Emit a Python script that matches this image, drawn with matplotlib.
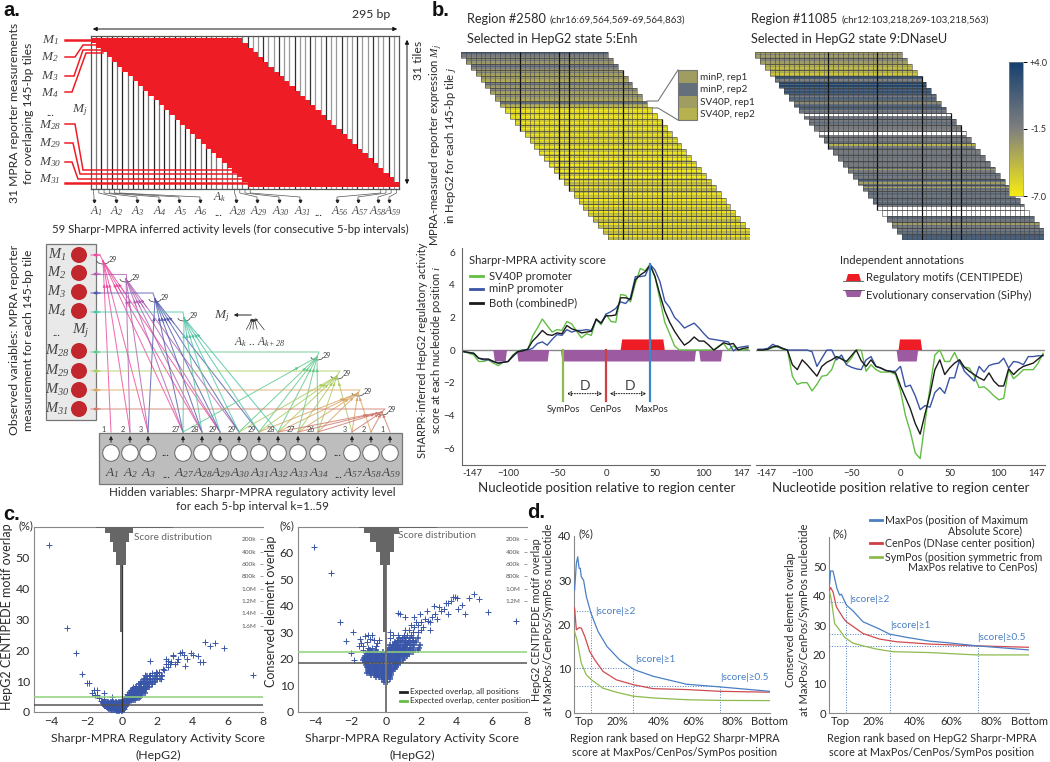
import numpy as np
import matplotlib
matplotlib.use("Agg")
import matplotlib.pyplot as plt
from matplotlib.colors import LinearSegmentedColormap, Normalize
from matplotlib.patches import Rectangle, Circle, Arc

plt.rcParams["font.family"] = ["Lato", "DejaVu Sans"]
plt.rcParams["mathtext.fontset"] = "custom"
plt.rcParams["mathtext.it"] = "Liberation Serif:italic"
plt.rcParams["mathtext.rm"] = "Liberation Serif:italic"
plt.rcParams["axes.unicode_minus"] = True

W, H = 1050, 762
INK = "#2b2b2b"

# panel a
n_cols = 59
n_tiles = 31
tile_len = 29
a_label_cols = [1, 2, 3, 4, 5, 6, 28, 29, 30, 31, 56, 57, 58, 59]
a_label_names = ["1", "2", "3", "4", "5", "6", "28", "29", "30", "31", "56", "57", "58", "59"]
a_label_px = [94, 116, 137, 159, 179, 200, 236, 257, 279, 300, 337, 358, 378, 389]
a_label_text_px = [96, 117, 138, 160, 181, 201, 238, 259, 281, 302, 340, 360, 378, 393]

m_names = ["1", "2", "3", "4", "28", "29", "30", "31"]
m_label_y = [40, 57, 76, 93, 125, 143, 162, 179]

m_circle_y = [255, 273, 292, 311, 351, 371, 390, 409]
a_names = ["1", "2", "3", "27", "28", "29", "30", "31", "32", "33", "34", "57", "58", "59"]
a_circle_x = [111, 130, 148, 183, 202, 220, 239, 259, 278, 298, 318, 352, 371, 390]
a_fan_counts = ["1", "2", "3", "27", "28", "29", "29", "29", "28", "27", "26", "3", "2", "1"]
fan_hubs = [(103, 261), (126, 279), (155, 299), (184, 318), (317, 357), (337, 376), (358, 393), (382, 412)]
fan_turn = [(100, 255), (126, 274), (153, 293), (183, 312), (319, 352), (340, 371), (360, 390), (385, 409)]
fan_targets = [[0, 1, 2, 3, 4, 5], [1, 2, 3, 4, 5, 6], [2, 3, 4, 5, 6, 7], [3, 4, 5, 6, 7, 8],
               [3, 6, 7, 8, 9, 10], [6, 7, 8, 9, 10, 11], [7, 8, 9, 10, 11, 12], [8, 9, 10, 11, 12, 13]]
fan_colors = ["#ec4a9c", "#b05cb0", "#5058ad", "#4cc3a4", "#5fc98c", "#a9cc5c", "#d9a566", "#cf7a6c"]

# panel b heatmaps, tiles by rows, four replicates per tile
enh_values = [
    [1, -1, -1, -2], [-2, -0.5, -2.5, -3], [-1, 0.8, -1.5, -2.5], [-2.5, -1, -3, -3.5],
    [-3, -2, -3.5, -4], [-1.5, 0.5, -2.5, -3], [-2, -0.5, -3, -3.5], [-2.5, -1.5, -3, -3.5],
    [-3, 0, -3, -4], [-6.5, -5.5, -6.8, -6], [-6.8, -5.5, -6.9, -6], [-6.8, -5, -6.9, -5.5],
    [-6.5, -5, -6.9, -5.5], [-6.5, -4.5, -6.8, -5.5], [-5.5, -4.5, -6.5, -5], [-5, -4.5, -6.5, -5],
    [-5, -4, -6.5, -4.5], [-5.5, -4, -6.8, -4.5], [-5, -3.8, -6.8, -4.5], [-5, -3.8, -6.8, -4.5],
    [-5, -4, -6.9, -4.5], [-4.5, -6.5, -4, -5], [-4.5, -6.8, -4, -4.5], [-4, -6.5, -4.5, -5],
    [-4.5, -6.9, -4, -5], [-4, -6.5, -4, -4.5], [-4.5, -6.5, -4, -5], [-4, -6, -4.5, -4],
    [-4, -6.5, -3.8, -4.5], [-4, -6, -4, -4.5], [-4, -6.5, -4, -4],
]
dnase_values = [
    [-3, -1.5, -3, -2.5], [-2, -1.5, -3, -3], [-4, -3, -4.5, -3.5], [-4, -3.5, -5, -3.5],
    [2.5, 1.5, -1.5, 0], [3.5, 1, 3.5, 1], [2, 1, 2.5, 1], [0.5, -1, 1, 0.5],
    [-3, -2, 0, 1], [0, 1, -1.5, -0.5], [-0.5, np.nan, -1, -0.5], [1, -1, 0.5, -0.5],
    [-1.5, -1, -1, -1.5], [-1, np.nan, np.nan, -1], [-1, -1, -1.5, 0], [-1.5, -4, -1, 0.5],
    [-1, -1, -1, 0], [-1, 0, -1, -1], [0, -1, -1, -0.5], [0, -3, -1, -0.5],
    [-1, 0.5, -1, -0.5], [1.5, -0.5, -3, 0], [-1, -3.5, 0, -1], [-0.5, 0.5, -1, -0.5],
    [-0.5, 0, -1, 0.5], [0, -1, np.nan, np.nan], [np.nan, np.nan, np.nan, np.nan], [-1, 0.5, -1, -0.5],
    [0, -3, 0, -1], [0.5, -1, 1, 0], [0, 1.5, 1, 1.5],
]
enh_strong_cols = [12, 20, 22, 33, 41]
dnase_strong_cols = [15, 25, 34, 40, 42]
callout_names = ["minP, rep1", "minP, rep2", "SV40P, rep1", "SV40P, rep2"]
callout_values = [-3, 0, -3, -4]

# panel b tracks
positions = [-145, -140, -135, -130, -125, -120, -115, -110, -105, -100,
             -95, -90, -85, -80, -75, -70, -65, -60, -55, -50,
             -45, -40, -35, -30, -25, -20, -15, -10, -5, 0,
             5, 10, 15, 20, 25, 30, 35, 40, 45, 50,
             55, 60, 65, 70, 75, 80, 85, 90, 95, 100,
             105, 110, 115, 120, 125, 130, 135, 140, 145]
enh_both = [-0.1, -0.15, -0.2, -0.5, -0.55, -0.55, -0.7, -0.8, -0.75, -0.7,
            -0.35, -0.1, -0.05, 0.05, 0.55, 0.85, 1.2, 0.95, 0.9, 1.05,
            1.0, 1.5, 1.3, 1.2, 1.05, 1.1, 1.15, 1.9, 1.65, 2.1,
            2.1, 2.15, 3.2, 3.2, 3.1, 4.3, 4.6, 4.8, 5.2, 4.5,
            3.4, 2.4, 1.7, 1.15, 0.7, 0.3, 0.5, 0.8, 0.55, 0.55,
            0.3, 0.0, 0.2, 0.45, 0.35, 0.4, 0.0, 0.1, 0.15]
enh_sv40 = [-0.1, -0.2, -0.3, -0.7, -0.7, -0.6, -0.8, -0.95, -0.75, -0.7,
            -0.3, -0.05, 0, 0, 0.85, 1.35, 1.9, 1.5, 1.1, 1.25,
            1.2, 1.75, 1.6, 1.15, 0.75, 1.0, 0.9, 1.9, 1.55, 2.2,
            1.75, 1.7, 3.4, 3.35, 2.95, 4.1, 5.0, 4.85, 5.25, 4.5,
            3.1, 1.7, 1.0, 0.25, 0, 0, 0, 0, 0, 0,
            0, 0, 0.25, 0.4, 0, 0.25, 0, 0, 0.05]
enh_minp = [-0.1, -0.15, -0.2, -0.5, -0.6, -0.6, -0.7, -0.8, -0.75, -0.7,
            -0.4, -0.1, 0, 0, 0.1, 0.4, 0.5, 0.3, 0.65, 0.95,
            0.9, 1.25, 1.1, 1.2, 1.2, 1.25, 1.2, 1.85, 1.65, 2.2,
            2.35, 2.55, 2.95, 2.85, 3.2, 4.5, 4.5, 4.55, 5.25, 4.9,
            4.2, 3.0, 2.6, 2.0, 1.7, 1.35, 1.5, 1.65, 1.35, 1.0,
            0.7, 0.65, 0.6, 0.55, 0.5, -0.05, 0.15, 0.2, 0.25]
dn_both = [0, 0, 0.05, 0.2, 0.25, 0.1, 0, -0.9, -1.2, -0.6,
           -0.9, -1.25, -1.6, -1, -0.75, -0.6, -0.4, -0.55, -0.7, -0.35,
           0, -0.65, -1, -0.6, -1, -1.1, -1.25, -1.3, -1.4, -2.2,
           -2.9, -3.6, -4.5, -5.15, -3.9, -2.7, -1.2, -0.6, -1.5, -1.1,
           -0.8, -0.6, -1.05, -1.3, -1.5, -1.7, -1.85, -1.4, -1.9, -2.2,
           -2.2, -1.15, -1.5, -1.2, -1, -0.9, -0.8, -0.55, -0.3]
dn_sv40 = [0, 0, 0.05, 0.15, 0.2, 0.05, 0, -1.6, -2.1, -2.0,
           -2.0, -2.5, -2.1, -1.6, -1.55, -1.2, -0.4, -0.5, -0.85, -0.5,
           0, 0, -1.3, -0.9, -1.2, -1.35, -1.35, -1.35, -1.5, -2.5,
           -4.0, -5.0, -6.3, -6.65, -4.4, -2.3, -0.3, 0, -0.7, -0.7,
           -0.15, -0.8, -1.05, -1.1, -1.6, -2.3, -2.25, -2.5, -2.8, -3.05,
           -2.95, -1.2, -1.75, -1.5, -1.2, -1.2, -1.2, -0.8, -0.2]
dn_minp = [0.05, 0.05, 0.1, 0.35, 0.2, 0.1, 0, 0, 0, 0,
           0, -0.1, -1.0, -0.5, 0, 0, -0.6, -0.3, -0.9, -1.05,
           -1.15, -1.2, -0.6, -0.4, -1, -1.1, -1.25, -1.3, -1.3, -1.0,
           -2.25, -2.15, -2.8, -3.65, -3.4, -3.5, -2.6, -2.3, -2.65, -1.7,
           -1.7, -0.6, -1.3, -1.6, -1.9, -1, -1.35, -0.95, -0.85, -0.8,
           -0.5, -1.1, -0.7, -0.75, -0.9, -0.4, -0.4, -0.35, -0.35]
enh_motifs = [(15, 60)]
enh_conserved = [(-115, -101), (-91, -58), (-46, 92), (95, 119)]
dn_motifs = [(-2, 22)]
dn_conserved = [(-4, 18)]
track_yticks = [-6, -4, -2, 0, 2, 4, 6]
track_xticks = [-147, -100, -50, 0, 50, 100, 147]
sym_pos, cen_pos, max_pos = -44, 0, 45

# panel c, left: motif overlap, sparse points then the dense cloud by rows
motif_x = [-4.15, -3.1, -2.6, -2.3, -2.0, -1.9, -1.7, -1.6, -1.45, -1.4, -1.55, -1.0, -1.3, -1.2, -1.05, -0.6,
           7.45, 5.8, 5.3, 4.7, 5.0, 4.6, 4.4, 4.3, 4.0, 3.9, 3.7, 3.6, 3.5, 3.4, 3.3, 3.2, 3.1, 3.0, 2.9, 2.8, 2.7,
           2.6, 2.5, 2.4, 2.3, 2.2, 2.1, 2.0, 1.9, 1.8, 1.7, 1.7, 1.6, 1.6, 1.5, 1.5, 1.4, 1.4, 1.3, 1.3, 1.2, 1.2,
           1.1, 1.1, 1.0, 1.0, 1.0, 0.9, 0.9, 0.8, 0.8, 0.8, 0.7, 0.7, 0.6, 0.6, 0.6, 0.5, 0.5, 0.5, 0.4, 0.4, 0.4,
           0.3, 0.3, 0.3, 0.2, 0.2, 0.1, 0.1, 0.1, 1.6, 2.9, 2.6, 2.5, 2.2, 2.0, 1.25, 1.05, 0.75, 0.55, 0.35]
motif_y = [53.8, 27.2, 18.9, 12.4, 9.3, 9.3, 6.2, 7.0, 7.2, 5.5, 5.5, 6.0, 4.5, 3.6, 4.2, 5.0,
           11.8, 20.6, 22.2, 22.5, 21.2, 16, 16, 18, 18.5, 19, 17, 15, 18.5, 19.5, 19, 17, 16, 15.5, 18.3, 16, 15.5,
           16.5, 17, 13.5, 14, 12, 13, 11, 13, 10, 12.5, 9, 10.5, 12, 11.5, 9, 8.5, 11, 9.5, 12, 8, 10,
           7, 9, 6.5, 8, 9.5, 5.5, 7.5, 5, 6.5, 8.5, 5, 7, 4.5, 6, 8, 4, 5.5, 7.2, 3.5, 5, 6.5,
           3, 4.5, 5.8, 2.5, 4, 1, 2.5, 4.2, 16.4, 18, 14.5, 15.5, 10.5, 12.5, 10.5, 8, 6, 4.5, 3.8]
motif_rows = [
    (0.3, [-0.3, -0.15, 0.0]),
    (0.55, [-0.4, -0.25, -0.1, 0.02]),
    (0.8, [-0.65, -0.5, -0.35, -0.2, -0.05, 0.05]),
    (1.05, [-0.72, -0.57, -0.42, -0.27, -0.12, 0.05]),
    (1.3, [-0.8, -0.65, -0.5, -0.35, -0.2, -0.05, 0.1]),
    (1.55, [-0.88, -0.72, -0.57, -0.42, -0.27, -0.12, 0.05, 0.15]),
    (1.8, [-0.95, -0.8, -0.65, -0.5, -0.35, -0.2, -0.05, 0.15]),
    (2.05, [-0.98, -0.85, -0.7, -0.55, -0.4, -0.25, -0.1, 0.05, 0.2]),
    (2.3, [-1.0, -0.85, -0.7, -0.55, -0.4, -0.25, -0.1, 0.05, 0.2]),
    (2.55, [-1.03, -0.9, -0.75, -0.6, -0.45, -0.3, -0.15, 0.0, 0.25]),
    (2.8, [-1.05, -0.9, -0.75, -0.6, -0.45, -0.3, -0.15, 0.0, 0.15, 0.3]),
    (3.05, [-1.08, -0.95, -0.8, -0.65, -0.5, -0.35, -0.2, -0.05, 0.1, 0.28]),
    (3.3, [-1.1, -0.95, -0.8, -0.65, -0.5, -0.35, -0.2, -0.05, 0.1, 0.22, 0.38]),
    (3.9, [0.15, 0.3, 0.45, 0.6, 0.75]),
    (4.4, [0.25, 0.35, 0.5, 0.65, 0.8, 0.95]),
    (5.0, [0.3, 0.45, 0.55, 0.7, 0.85, 1.0]),
    (5.6, [0.35, 0.5, 0.65, 0.8, 0.95, 1.1]),
    (6.2, [0.45, 0.55, 0.7, 0.85, 1.0, 1.15, 1.3]),
    (6.8, [0.5, 0.65, 0.8, 0.95, 1.1, 1.25]),
    (7.5, [0.6, 0.75, 0.9, 1.05, 1.2, 1.35]),
    (8.2, [0.8, 0.95, 1.1, 1.25, 1.4, 1.55]),
    (8.9, [0.95, 1.1, 1.25, 1.4, 1.55, 1.7]),
    (9.7, [1.05, 1.2, 1.35, 1.5, 1.7, 1.85]),
    (10.5, [1.25, 1.4, 1.6, 1.75, 1.95, 2.15]),
    (11.5, [1.4, 1.6, 1.85, 2.0, 2.25]),
]
# panel c, right: conserved overlap
cons_x = [-4.1, -3.1, -2.6, -1.9, -2.3, -2.0, -1.8, -1.5, -1.4, -1.55, -1.3, -1.2, -1.1, -1.0, -0.9, -0.8, -0.7, -0.6,
          -0.5, -1.3, -1.0, -0.8, -0.4, 0.2, 0.2, 0.4, 0.7, 0.8, 1.1, 7.4, 5.8, 5.3, 5.0, 4.7, 4.5, 4.3, 4.1, 3.9, 3.8,
          4.0, 3.7, 3.5, 3.5, 3.4, 3.3, 3.1, 3.0, 2.9, 2.8, 2.7, 2.6, 2.5, 2.5, 2.4, 2.3, 2.2, 2.1, 2.0, 2.0, 1.9, 1.8,
          1.8, 1.7, 1.6, 1.6, 1.5, 1.5, 1.4, 1.4, 1.3, 1.3, 1.2, 1.2, 1.1, 1.1, 1.0, 1.0, 0.9, 0.9, 0.8, 0.8, 0.7, 0.7,
          0.6, 0.6, 0.5, 0.5, 0.4, 0.3, 0.5]
cons_y = [62.3, 52.3, 33.8, 30.3, 26.7, 22.2, 19.8, 27.5, 26, 24.8, 25, 28.5, 26.5, 29, 27.5, 29, 27, 25,
          26, 23.5, 24, 24, 27, 28, 30, 29, 37.5, 37, 36, 34.5, 37.8, 42.5, 44.6, 43, 37, 40.5, 39, 43.5, 43.5,
          43, 42, 37, 41, 41, 39, 38, 39.5, 35, 37, 40, 36, 34, 31, 34.5, 38, 35, 32, 34, 31, 37, 33,
          30, 34, 36, 32, 30, 27, 33, 29, 31, 27, 29, 26, 31, 27, 29, 25, 28, 24, 27, 23, 29, 25,
          27, 23, 26, 22, 25, 24, 18.5]
cons_rows = [
    (11.5, [-0.1, 0.05]),
    (12.3, [-0.25, -0.1, 0.05, 0.2]),
    (13.1, [-0.55, -0.4, -0.2, 0.0, 0.2]),
    (13.9, [-0.85, -0.65, -0.45, -0.25, -0.05, 0.15, 0.3]),
    (14.7, [-1.1, -0.9, -0.7, -0.5, -0.3, -0.1, 0.1, 0.3]),
    (15.5, [-1.05, -0.85, -0.65, -0.45, -0.25, -0.05, 0.15, 0.35]),
    (16.3, [-1.0, -0.8, -0.6, -0.4, -0.2, 0.0, 0.2, 0.4, 0.5]),
    (17.1, [-1.1, -0.9, -0.7, -0.5, -0.3, -0.1, 0.1, 0.3, 0.55]),
    (17.9, [-1.15, -0.95, -0.75, -0.55, -0.35, -0.15, 0.05, 0.25, 0.45, 0.7]),
    (18.7, [-1.2, -1.0, -0.8, -0.6, -0.4, -0.2, 0.0, 0.2, 0.4, 0.6, 0.8]),
    (19.5, [-1.3, -1.1, -0.9, -0.7, -0.5, -0.3, -0.1, 0.1, 0.3, 0.5, 0.7, 0.95]),
    (20.3, [-1.25, -1.05, -0.85, -0.65, -0.45, -0.25, -0.05, 0.15, 0.35, 0.55, 0.75, 1.0]),
    (21.1, [-1.2, -1.0, -0.8, -0.6, -0.4, -0.2, 0.0, 0.2, 0.4, 0.6, 0.8, 1.0, 1.2]),
    (21.9, [-1.1, -0.9, -0.7, -0.5, -0.3, -0.1, 0.1, 0.3, 0.5, 0.7, 0.9, 1.1, 1.3]),
    (22.7, [-1.0, -0.8, -0.5, -0.2, 0.1, 0.3, 0.5, 0.7, 0.9, 1.1, 1.3, 1.5]),
    (23.5, [-0.9, -0.6, 0.1, 0.3, 0.5, 0.7, 0.9, 1.1, 1.3, 1.5, 1.8]),
    (24.3, [0.15, 0.35, 0.55, 0.75, 0.95, 1.15, 1.35, 1.55, 1.85]),
    (25.1, [0.2, 0.4, 0.6, 0.8, 1.0, 1.2, 1.4, 1.6, 1.9]),
    (26.5, [0.5, 0.7, 0.9, 1.1, 1.3, 1.5, 1.7]),
    (28, [0.75, 0.95, 1.15, 1.35, 1.55, 1.8]),
]
motif_hist_edges = [-1.46, -0.98, -0.7, -0.51, -0.32, -0.13, 0.02, 0.21, 0.4, 0.62, 2.9]
cons_hist_edges = [-1.51, -1.23, -0.89, -0.6, -0.32, -0.17, 0.02, 0.25, 0.43, 0.72, 2.89]
motif_hist_counts = [20e3, 90e3, 240e3, 400e3, 610e3, 1.7e6, 610e3, 250e3, 90e3, 20e3]
cons_hist_counts = [20e3, 90e3, 240e3, 400e3, 610e3, 1.7e6, 610e3, 400e3, 110e3, 20e3]
hist_ticks = [200e3, 400e3, 600e3, 800e3, 1.0e6, 1.2e6, 1.4e6, 1.6e6]
hist_tick_names = ["200k", "400k", "600k", "800k", "1.0M", "1.2M", "1.4M", "1.6M"]

# panel d
d1_blue_x = [0.3, 1.2, 1.9, 2.6, 3.2, 3.7, 4.9, 6.3, 8.7, 12.3, 16.9, 23.3, 30.7, 40.4, 57.4, 74.4, 100]
d1_blue_y = [27.8, 33.8, 35.3, 32.7, 32.7, 30.8, 30, 26.3, 22.5, 18.4, 15, 12, 9.8, 8.3, 6.5, 5.9, 4.9]
d1_red_x = [0.3, 1.2, 2.6, 3.7, 5.5, 8, 10.6, 14.8, 21.6, 30.2, 40.4, 57.4, 74.4, 100]
d1_red_y = [23.7, 18.8, 19.3, 19.2, 17.3, 13.9, 12, 9.4, 7.5, 6.4, 5.5, 5.3, 4.9, 4.7]
d1_green_x = [0.3, 1.5, 3.7, 6.3, 8.9, 14.8, 21.6, 30.2, 40.4, 57.4, 74.4, 100]
d1_green_y = [18.4, 16.5, 11.3, 8.6, 7.5, 5.6, 4.7, 3.8, 3.4, 3.0, 2.85, 2.8]
d1_guides = [(8.7, 23), (30, 10.2), (74.5, 6)]
d2_blue_x = [0.3, 0.8, 2, 4, 5.3, 6.2, 8.7, 12, 17, 25.3, 30.3, 38.7, 50.3, 58.7, 73.7, 100]
d2_blue_y = [44.1, 48.4, 48.4, 42.4, 40.2, 40.5, 36.8, 34.8, 31.1, 28.6, 26.9, 25.8, 24.5, 24, 22.9, 21.5]
d2_red_x = [0.3, 0.8, 2, 3.7, 7, 8.7, 17, 25.3, 33.7, 50.3, 73.7, 100]
d2_red_y = [41.9, 42.8, 41.3, 36.2, 32.5, 31.1, 27.1, 25.2, 24.3, 23.5, 22.9, 22.4]
d2_green_x = [0.3, 1.2, 2.8, 5.3, 7.8, 12, 17, 23.7, 32, 50.3, 73.7, 100]
d2_green_y = [41.3, 38.5, 30.5, 28.3, 25.8, 23.8, 22.9, 21.8, 20.9, 20.6, 19.8, 19.8]
d2_guides = [(8.3, 38), (30.5, 27), (74.7, 23)]
d_tick_pos = [5.5, 22, 43, 61, 81, 100]
d_tick_names = ["Top", "20%", "40%", "60%", "80%", "Bottom"]
score_names = ["|score|≥2", "|score|≥1", "|score|≥0.5"]

BLUE, RED, GREEN = "#4a7fc4", "#cf4b50", "#8dbb4e"
SCATTER = "#3a56a8"

heat_cmap = LinearSegmentedColormap.from_list("heat", ["#f6ec12", "#808080", "#17406f"])
heat_cmap.set_bad("white")
heat_norm = Normalize(-7, 4)

fig = plt.figure(figsize=(W / 100, H / 100), dpi=100, facecolor="white")


def pax(left, top, right, bottom, **kw):
    return fig.add_axes([left / W, 1 - bottom / H, (right - left) / W, (bottom - top) / H], **kw)


ov = fig.add_axes([0, 0, 1, 1], zorder=5)
ov.set_xlim(0, W)
ov.set_ylim(H, 0)
ov.axis("off")


def txt(x, y, s, size=7.6, ha="center", va="center", **kw):
    kw.setdefault("color", INK)
    return ov.text(x, y, s, fontsize=size, ha=ha, va=va, **kw)


def mth(base, sub):
    return "$\\mathit{%s_{%s}}$" % (base, sub)


# ---- panel a, top: tile grid
ax = pax(91, 36, 399, 189)
ax.set_xlim(0, n_cols)
ax.set_ylim(n_tiles + 0.4, -0.4)
for c in range(1, n_cols):
    shade = "#222222" if (c < 24 and c % 2 == 0) else "#777777" if c < 30 else "#999999"
    if c >= 30 and c % 3 == 0:
        shade = "#333333"
    ax.axvline(c, color=shade, lw=0.9, zorder=1)
ax.barh(np.arange(n_tiles) + 0.5, [tile_len] * n_tiles, left=np.arange(n_tiles), height=1.0,
        color="#ee1c25", zorder=2)
ax.set_xticks([])
ax.set_yticks([])
for s in ax.spines.values():
    s.set_color("#555555")
    s.set_linewidth(0.9)

ov.annotate("", xy=(90, 29), xytext=(400, 29), arrowprops=dict(arrowstyle="<|-|>", color="#111111", lw=0.7, mutation_scale=6))
txt(371, 15, "295 bp", 8.8)
ov.annotate("", xy=(407, 37), xytext=(407, 187), arrowprops=dict(arrowstyle="<|-|>", color="#111111", lw=0.7, mutation_scale=6))
txt(418, 60, "31 tiles", 8.8, rotation=90)
txt(15, 113, "31 MPRA reporter measurements", 8.7, rotation=90)
txt(29, 113, "for overlaping 145-bp tiles", 8.7, rotation=90)

connectors = [[(65, 40), (91, 40)], [(65, 57), (75, 57), (83, 45), (100, 45)], [(65, 76), (74, 76), (83, 50), (102, 50)],
              [(65, 92), (72, 92), (86, 53), (103, 53)], [(65, 124), (75, 124), (83, 170), (232, 170)],
              [(65, 143), (73, 143), (80, 174), (237, 174)], [(65, 162), (72, 162), (78, 179), (242, 179)],
              [(65, 183), (247, 183)]]
for i, path in enumerate(connectors):
    xs, ys = zip(*path)
    ov.plot(xs, ys, color="#ee1c25", lw=1.8 if i in (0, 7) else 1.1, solid_joinstyle="miter")

for name, y in zip(m_names, m_label_y):
    txt(50, y, mth("M", name), 9.5, color="#444444")
txt(50, 113, "...", 8)
txt(80, 110, mth("M", "j"), 9.5, color="#444444")

for k, lx, tx in zip(a_label_cols, a_label_px, a_label_text_px):
    cx = 91 + (k - 0.5) * 308 / n_cols
    ov.plot([cx, cx, lx, lx], [189, 193, 197, 200], color="#555555", lw=0.5)
    ov.plot([lx], [201], marker="v", ms=1.8, color="#222222")
for name, tx in zip(a_label_names, a_label_text_px):
    txt(tx, 211, mth("A", name), 8.4, color="#444444")
txt(220, 197, mth("A", "k"), 8.4, color="#444444")
txt(218, 213, "...", 8)
txt(318, 213, "...", 8)
txt(230, 229, "59 Sharpr-MPRA inferred activity levels (for consecutive 5-bp intervals)", 8.2)

# ---- panel a, bottom: graphical model
ov.add_patch(Rectangle((46, 244), 50, 176, fc="#e9e9e9", ec="#777777", lw=0.9, zorder=1))
ov.add_patch(Rectangle((99, 433), 303, 51, fc="#bdbdbd", ec="#777777", lw=0.9, zorder=1))
for y, name in zip(m_circle_y, m_names):
    ov.add_patch(Circle((79, y), 8, fc="#c1272d", ec="none", zorder=3))
    txt(57, y, mth("M", name), 10.5, zorder=4, color="#444444")
txt(56, 332, "...", 8)
txt(81, 331, mth("M", "j"), 11, color="#444444")
for x, name, cnt in zip(a_circle_x, a_names, a_fan_counts):
    ov.add_patch(Circle((x, 453), 8.3, fc="white", ec="#666666", lw=0.7, zorder=3))
    ov.annotate("", xy=(x, 433), xytext=(x, 445), arrowprops=dict(arrowstyle="-|>", color="#222222", lw=0.7, mutation_scale=5), zorder=4)
    txt(x + 1, 473, mth("A", name), 9.6, zorder=4, color="#444444")
    txt(x - 7, 429, cnt, 5.2, color="#444444")
for x in (165, 337):
    txt(x, 453, "...", 8, zorder=4)
for x in (166, 338):
    txt(x, 475, "...", 8, zorder=4)

for i in range(len(fan_hubs)):
    hx, hy = fan_hubs[i]
    tx, ty = fan_turn[i]
    col = fan_colors[i]
    ov.plot([hx, tx, 91], [hy, ty, ty], color=col, lw=0.8, alpha=0.75)
    ov.annotate("", xy=(90, ty), xytext=(103, ty), arrowprops=dict(arrowstyle="-|>", color=col, lw=0.8, mutation_scale=5))
    for t in fan_targets[i]:
        ax_x = a_circle_x[t]
        ov.plot([hx, ax_x], [hy, 432], color=col, lw=0.75, alpha=0.8, zorder=2)
        ov.annotate("", xy=(hx + (ax_x - hx) * 0.12, hy + (432 - hy) * 0.12),
                    xytext=(hx + (ax_x - hx) * 0.2, hy + (432 - hy) * 0.2),
                    arrowprops=dict(arrowstyle="-|>", color=col, lw=0.5, mutation_scale=4))
    ov.add_patch(Arc((hx, hy), 12, 6, theta1=0, theta2=180, color="#333333", lw=0.5))
    txt(hx + 10, hy - 2, "29", 5.2, color="#444444")

ov.annotate("", xy=(231, 315), xytext=(254, 315), arrowprops=dict(arrowstyle="-|>", color="#222222", lw=0.7, mutation_scale=5))
for dx in (245, 249, 253, 258, 266):
    ov.annotate("", xy=(253.5, 316), xytext=(dx, 332), arrowprops=dict(arrowstyle="-|>", color="#333333", lw=0.5, mutation_scale=3))
txt(222, 316, mth("M", "j"), 9.5, color="#444444")
txt(260, 342, mth("A", "k") + " .. " + mth("A", "k+28"), 8.4, color="#444444")
txt(15, 340, "Observed variables: MPRA reporter", 8.7, rotation=90)
txt(29, 340, "measurement for each 145-bp tile", 8.7, rotation=90)
txt(252, 493, "Hidden variables: Sharpr-MPRA regulatory activity level", 8.4)
txt(252, 506, "for each 5-bp interval k=1..59", 8.4)


# ---- panel b, heatmaps
def heatmap(left, right, values, strong):
    hax = pax(left, 52, right, 240)
    hax.set_xlim(0, n_cols)
    hax.set_ylim(n_tiles, 0)
    hax.axis("off")
    for j, row in enumerate(values):
        xe = np.arange(j, j + tile_len + 1 + 1)
        ye = j + np.array([0, 0.25, 0.5, 0.75, 1.0])
        z = np.repeat(np.array(row).reshape(4, 1), len(xe) - 1, axis=1)
        hax.pcolormesh(xe, ye, np.ma.masked_invalid(z), cmap=heat_cmap, norm=heat_norm, shading="flat", rasterized=True)
        hax.vlines(xe, j, j + 1, color="#444444", lw=0.4)
        hax.hlines([j, j + 1], xe[0], xe[-1], color="#444444", lw=0.4)
        for c in strong:
            if xe[0] <= c <= xe[-1]:
                hax.vlines(c, j, j + 1, color="#111111", lw=0.9)
    return hax


heatmap(461, 750, enh_values, enh_strong_cols)
heatmap(755, 1044, dnase_values, dnase_strong_cols)

cax = pax(1009, 62, 1023, 196)
cax.imshow(np.linspace(4, -7, 200).reshape(-1, 1), cmap=heat_cmap, norm=heat_norm, aspect="auto", extent=[0, 1, -7, 4])
cax.set_xticks([])
cax.yaxis.tick_right()
cax.set_yticks([4, -1.5, -7])
cax.set_yticklabels(["+4.0", "-1.5", "-7.0"], fontsize=6.6, color=INK)
cax.tick_params(axis="y", length=3, width=0.7, pad=2)
for s in cax.spines.values():
    s.set_color("#888888")
    s.set_linewidth(0.5)

for i, (name, v) in enumerate(zip(callout_names, callout_values)):
    y0 = 71 + i * 12.3
    ov.add_patch(Rectangle((678, y0), 19, 12.3, fc=heat_cmap(heat_norm(v)), ec="none"))
    txt(700, y0 + 6.5, name, 7.2, ha="left")
ov.plot([647, 658, 678], [101, 101, 70], color="#777777", lw=0.8)
ov.plot([652, 658, 678], [108, 108, 120], color="#777777", lw=0.8)
ov.add_patch(Rectangle((678, 70), 19, 50, fc="none", ec="#777777", lw=0.8))

txt(467, 19, "Region #2580", 9.2, ha="left")
txt(549, 20, "(chr16:69,564,569-69,564,863)", 7.0, ha="left")
txt(467, 39, "Selected in HepG2 state 5:Enh", 9.2, ha="left")
txt(751, 19, "Region #11085", 9.2, ha="left")
txt(842, 20, "(chr12:103,218,269-103,218,563)", 7.0, ha="left")
txt(751, 39, "Selected in HepG2 state 9:DNaseU", 9.2, ha="left")
txt(436, 145, "MPRA-measured reporter expression " + mth("M", "j"), 8.2, rotation=90)
txt(450, 145, "in HepG2 for each 145-bp tile " + "$\\mathit{j}$", 8.2, rotation=90)


# ---- panel b, tracks
def track(left, right, sv40, minp, both, motifs, conserved, show_y):
    tax = pax(left, 248, right, 465)
    tax.patch.set_alpha(0)
    tax.set_xlim(-147, 147)
    tax.set_ylim(-7.04, 6.25)
    tax.axhline(0, color="#888888", lw=1.0, zorder=1)
    for a, b in motifs:
        tax.fill([a, a + 1.5, b - 1.5, b], [0, 0.65, 0.65, 0], color="#ee1c25", lw=0, zorder=2)
    for a, b in conserved:
        tax.fill([a, b, b - 1.5, a + 1.5], [0, 0, -0.7, -0.7], color="#9c5aa0", lw=0, zorder=2)
    tax.plot(positions, sv40, color="#63bd45", lw=1.0, zorder=3, clip_on=False)
    tax.plot(positions, minp, color="#3a53a4", lw=1.0, zorder=4, clip_on=False)
    tax.plot(positions, both, color="#1a1a1a", lw=1.0, zorder=5, clip_on=False)
    tax.set_xticks(track_xticks)
    labels = tax.set_xticklabels(["-147", "−100", "−50", "0", "50", "100", "147"], fontsize=6.8, color=INK)
    labels[0].set_ha("left")
    labels[-1].set_ha("right")
    tax.tick_params(axis="x", length=0, pad=3)
    for s in ("top", "right"):
        tax.spines[s].set_visible(False)
    tax.spines["bottom"].set_color("#666666")
    if show_y:
        tax.set_yticks(track_yticks)
        tax.set_yticklabels(["−6", "−4", "−2", "0", "2", "4", "6"], fontsize=7.2, color=INK)
        tax.tick_params(axis="y", length=0, pad=5)
        tax.spines["left"].set_color("#666666")
    else:
        tax.set_yticks([])
        tax.spines["left"].set_visible(False)
    return tax


tl = track(462, 750, enh_sv40, enh_minp, enh_both, enh_motifs, enh_conserved, True)
track(756, 1045, dn_sv40, dn_minp, dn_both, dn_motifs, dn_conserved, False)
tl.plot([sym_pos, sym_pos], [0, -3.15], color="#8dbb4e", lw=1.6, zorder=6)
tl.plot([cen_pos, cen_pos], [0, -3.15], color="#cf4044", lw=1.6, zorder=6)
tl.plot([max_pos, max_pos], [5.25, -3.15], color="#3f86c8", lw=1.6, zorder=6)
for a, b in ((sym_pos, cen_pos), (cen_pos, max_pos)):
    tl.annotate("", xy=(a + 1, -2.67), xytext=(b - 1, -2.67),
                arrowprops=dict(arrowstyle="<|-|>", color="#111111", fc="#bbbbbb", lw=0.7, ls=":", mutation_scale=7))
txt(585, 386, "D", 10, color="#444444")
txt(630, 386, "D", 10, color="#444444")
txt(563, 409, "SymPos", 6.9)
txt(606, 409, "CenPos", 6.9)
txt(651, 409, "MaxPos", 6.9)

txt(469, 261, "Sharpr-MPRA activity score", 8.1, ha="left")
for y, col, name in ((276, "#63bd45", "SV40P promoter"), (289, "#3a53a4", "minP promoter"), (303, "#1a1a1a", "Both (combinedP)")):
    ov.plot([470, 483], [y, y], color=col, lw=2.0)
    txt(489, y, name, 8.1, ha="left")
txt(840, 261, "Independent annotations", 8.1, ha="left")
ov.plot([843, 863], [281, 281], color="#555555", lw=0.6)
ov.fill([846, 848, 859, 861], [281, 274, 274, 281], color="#ee1c25", lw=0)
ov.plot([843, 864], [290, 290], color="#555555", lw=0.6)
ov.fill([845, 862, 860, 847], [290, 290, 297, 297], color="#9c5aa0", lw=0)
txt(866, 277, "Regulatory motifs (CENTIPEDE)", 8.1, ha="left")
txt(866, 295, "Evolutionary conservation (SiPhy)", 8.1, ha="left")
txt(422, 350, "SHARPR-inferred HepG2 regulatory activity", 8.0, rotation=90)
txt(437, 350, "score at each nucleotide position " + "$\\mathit{i}$", 8.0, rotation=90)
txt(607, 488, "Nucleotide position relative to region center", 9.5)
txt(901, 488, "Nucleotide position relative to region center", 9.5)


# ---- panel c
def volcano(left, right, ylim, yticks, xs, ys, rows, hist_edges, hist_counts, ntick, green, black, vcol, vlw):
    vax = pax(left, 527, right, 712)
    vax.set_xlim(-5, 8)
    vax.set_ylim(0, ylim)
    vax.plot(xs, ys, "+", color=SCATTER, ms=4.2, mew=0.7, zorder=3, clip_on=False)
    for y, row_x in rows:
        vax.plot(row_x, [y] * len(row_x), "+", color=SCATTER, ms=4.4, mew=1.1, zorder=3, clip_on=False)
    vax.axhline(green, color="#8fd17a", lw=1.1, zorder=4)
    vax.axhline(black, color="#555555", lw=1.1, zorder=4)
    vax.axvline(0, color=vcol, lw=vlw, zorder=4)
    vax.set_xticks([-4, -2, 0, 2, 4, 6, 8])
    vax.set_xticklabels(["−4", "−2", "0", "2", "4", "6", "8"], fontsize=8.8, color=INK)
    vax.set_yticks(yticks)
    vax.set_yticklabels([str(t) for t in yticks], fontsize=8.8, color=INK)
    vax.tick_params(length=0, pad=3)
    vax.spines["right"].set_visible(False)
    for s in ("top", "left", "bottom"):
        vax.spines[s].set_color("#888888")
    hax = vax.twinx()
    hax.set_ylim(3.0e6, 0)
    hax.stairs(hist_counts, hist_edges, fill=True, color="#666666", zorder=1)
    hax.set_yticks(hist_ticks[:ntick])
    labels = hax.set_yticklabels(hist_tick_names[:ntick], fontsize=4.6, color="#555555")
    for t in labels:
        t.set_ha("right")
    hax.tick_params(axis="y", direction="in", length=2, width=0.5, pad=-5, color="#777777")
    for s in ("right", "top", "left", "bottom"):
        hax.spines[s].set_visible(False)
    return vax


volcano(34, 263, 59.7, [0, 10, 20, 30, 40, 50], motif_x, motif_y, motif_rows, motif_hist_edges, motif_hist_counts,
        8, 4.7, 2.3, "#333333", 0.9)
volcano(298, 527, 69.8, [0, 10, 20, 30, 40, 50, 60], cons_x, cons_y, cons_rows, cons_hist_edges, cons_hist_counts,
        6, 22.5, 18.3, "#777777", 1.4)
txt(26, 526, "(%)", 8, ha="center")
txt(287, 526, "(%)", 8, ha="center")
txt(134, 538, "Score distribution", 7.2, ha="left", color="#666666")
txt(398, 536, "Score distribution", 7.2, ha="left", color="#666666")
txt(7, 617, "HepG2 CENTIPEDE motif overlap", 9, rotation=90)
txt(271, 611, "Conserved element overlap", 9, rotation=90)
txt(158, 739, "Sharpr-MPRA Regulatory Activity Score", 8.8)
txt(158, 755, "(HepG2)", 8.8)
txt(412, 739, "Sharpr-MPRA Regulatory Activity Score", 8.8)
txt(412, 755, "(HepG2)", 8.8)
ov.plot([400, 407], [691.5, 691.5], color="#222222", lw=2)
ov.plot([400, 407], [700.5, 700.5], color="#63bd45", lw=2)
txt(410, 691.5, "Expected overlap, all positions", 5.9, ha="left")
txt(410, 700.5, "Expected overlap, center position", 5.9, ha="left")


# ---- panel d
def rank_panel(left, right, top, ylim, yticks, series, guides):
    dax = pax(left, top, right, 713)
    dax.set_xlim(0, 100)
    dax.set_ylim(0, ylim)
    for (x, y), col in zip(series, (RED, GREEN, BLUE)):
        dax.plot(x, y, color=col, lw=0.9, zorder=3)
    for gx, gy in guides:
        dax.plot([0, gx], [gy, gy], color=BLUE, lw=0.7, ls=":", zorder=2)
        dax.plot([gx, gx], [0, gy], color=BLUE, lw=0.7, ls=":", zorder=2)
    dax.set_xticks(d_tick_pos)
    dax.set_xticklabels(d_tick_names, fontsize=8, color=INK)
    dax.set_yticks(yticks)
    dax.set_yticklabels([str(t) for t in yticks], fontsize=8.2, color=INK)
    dax.tick_params(length=0, pad=2)
    dax.spines["top"].set_visible(False)
    dax.spines["right"].set_visible(False)
    for s in ("left", "bottom"):
        dax.spines[s].set_color("#888888")
    return dax


rank_panel(574, 770, 536, 40, [0, 10, 20, 30, 40],
           [(d1_red_x, d1_red_y), (d1_green_x, d1_green_y), (d1_blue_x, d1_blue_y)], d1_guides)
rank_panel(829, 1029, 537, 60, [0, 10, 20, 30, 40, 50],
           [(d2_red_x, d2_red_y), (d2_green_x, d2_green_y), (d2_blue_x, d2_blue_y)], d2_guides)
for (x, y), name in zip(((595, 611), (635, 660), (720, 678)), score_names):
    txt(x, y, name, 7.2, ha="left", color=BLUE)
for (x, y), name in zip(((849, 599), (890, 626), (977, 637)), score_names):
    txt(x, y, name, 7.2, ha="left", color=BLUE)
txt(586, 534, "(%)", 8)
txt(840, 534, "(%)", 8)
txt(536, 620, "HepG2 CENTIPEDE motif overlap", 7.8, rotation=90)
txt(549, 620, "at MaxPos/CenPos/SymPos nucleotide", 8.0, rotation=90)
txt(790, 620, "Conserved element overlap", 8.0, rotation=90)
txt(804, 620, "at MaxPos/CenPos/SymPos nucleotide", 8.0, rotation=90)
txt(675, 739, "Region rank based on HepG2 Sharpr-MPRA", 7.8)
txt(675, 753, "score at MaxPos/CenPos/SymPos position", 7.8)
txt(932, 739, "Region rank based on HepG2 Sharpr-MPRA", 7.8)
txt(932, 753, "score at MaxPos/CenPos/SymPos position", 7.8)

ov.plot([870, 882], [520, 520], color=BLUE, lw=2)
txt(885, 520, "MaxPos (position of Maximum", 7.7, ha="left")
txt(1022, 531, "Absolute Score)", 7.7, ha="right")
ov.plot([870, 882], [543, 543], color="#cf3e44", lw=2)
txt(885, 543, "CenPos (DNase center position)", 7.7, ha="left")
ov.plot([870, 882], [557, 557], color=GREEN, lw=2)
txt(885, 557, "SymPos (position symmetric from", 7.7, ha="left")
txt(1038, 567, "MaxPos relative to CenPos)", 7.7, ha="right")

for x, y, s in ((3, 11, "a."), (432, 11, "b."), (3, 514, "c."), (527, 513, "d.")):
    ov.text(x, y, s, fontsize=14.5, fontweight="bold", family="Liberation Sans", ha="left", va="center", color="#111111")

fig.savefig("out.png", dpi=100)
